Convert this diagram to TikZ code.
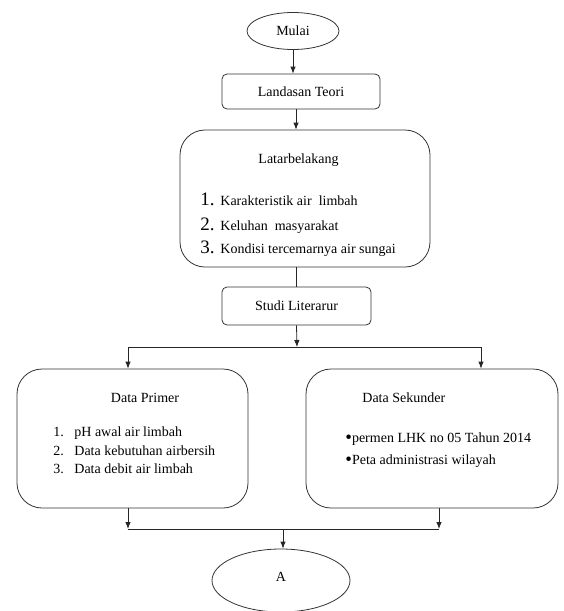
\documentclass[tikz,border=0pt]{standalone}
\usepackage{fontspec}
\setmainfont{Liberation Serif}
\usetikzlibrary{shapes.geometric,arrows.meta,calc}
\newcommand{\bigbul}{\raisebox{-1.9pt}{\scalebox{1.35}{•}}}
\begin{document}
\begin{tikzpicture}[x=1pt,y=-1pt,
  line width=0.8pt,
  every node/.style={font=\fontsize{14}{16}\selectfont, inner sep=0pt, text=black},
  oval/.style={draw=black!80, ellipse},
  rbox/.style={draw=black!80, rectangle, rounded corners=#1},
  arr/.style={draw=black!85, -{Latex[length=7pt,width=5.5pt]}},
  ln/.style={draw=black!85},
  txt/.style={anchor=base west},
  big/.style={anchor=base west, font=\fontsize{19}{20}\selectfont}]
\useasboundingbox (0,0) rectangle (563,611);

% shapes
\node[oval, minimum width=92pt, minimum height=37pt] (mulai) at (293,31) {Mulai};
\node[rbox=5pt, minimum width=158pt, minimum height=35pt] (land) at (301,91.5) {Landasan Teori};
\node[rbox=25pt, minimum width=250pt, minimum height=137pt] (latar) at (305,198.5) {};
\node[rbox=5pt, minimum width=149pt, minimum height=38pt] (studi) at (296.5,306) {Studi Literarur};
\node[rbox=25pt, minimum width=231pt, minimum height=139pt] (prim) at (132.5,438.5) {};
\node[rbox=25pt, minimum width=252pt, minimum height=139pt] (sek) at (432,438.5) {};
\node[oval, minimum width=138pt, minimum height=63pt] (A) at (281,580.5) {};
\node[anchor=base] (Atxt) at (281,581) {A};

% Latarbelakang text
\node[anchor=base] (lt) at (298.5,163) {Latarbelakang};
\node[big] (l1n) at (200,205) {1.};
\node[txt] (l1) at (220,205) {Karakteristik air\ \ limbah};
\node[big] (l2n) at (200,230) {2.};
\node[txt] (l2) at (220,230) {Keluhan\ \ masyarakat};
\node[big] (l3n) at (200,253) {3.};
\node[txt] (l3) at (220,253) {Kondisi tercemarnya air sungai};

% Data Primer text
\node[anchor=base] (pt) at (145,402) {Data Primer};
\node[txt] (p1n) at (53,436) {1.};
\node[txt] (p1) at (74,436) {pH awal air limbah};
\node[txt] (p2n) at (53,455) {2.};
\node[txt] (p2) at (74,455) {Data kebutuhan airbersih};
\node[txt] (p3n) at (53,473) {3.};
\node[txt] (p3) at (74,473) {Data debit air limbah};

% Data Sekunder text
\node[txt] (st) at (362,402) {Data Sekunder};
\node[txt] (s1) at (345,442) {\bigbul permen LHK no 05 Tahun 2014};
\node[txt] (s2) at (345,464) {\bigbul Peta administrasi wilayah};

% coordinates
\coordinate (sm) at (297,347);
\coordinate (sl) at (128,347);
\coordinate (sr) at (481,347);
\coordinate (bl) at (128,529);
\coordinate (br) at (439,529);
\coordinate (bm) at (283,529);

% connectors
\draw[arr] (mulai.south) -- (mulai.south |- land.north);
\draw[arr] ([xshift=-5pt]land.south) -- ([xshift=-5pt]land.south |- latar.north);
\draw[ln] (latar.south -| studi.north) -- (studi.north);
\draw[arr] (studi.south) -- (sm);
\draw[ln] (sl) -- (sr);
\draw[arr] (sl) -- (sl |- prim.north);
\draw[arr] (sr) -- (sr |- sek.north);
\draw[arr] (bl |- prim.south) -- (bl);
\draw[arr] (br |- sek.south) -- (br);
\draw[ln] (bl) -- (br);
\draw[arr] (bm) -- (bm |- A.north);
\end{tikzpicture}
\end{document}
